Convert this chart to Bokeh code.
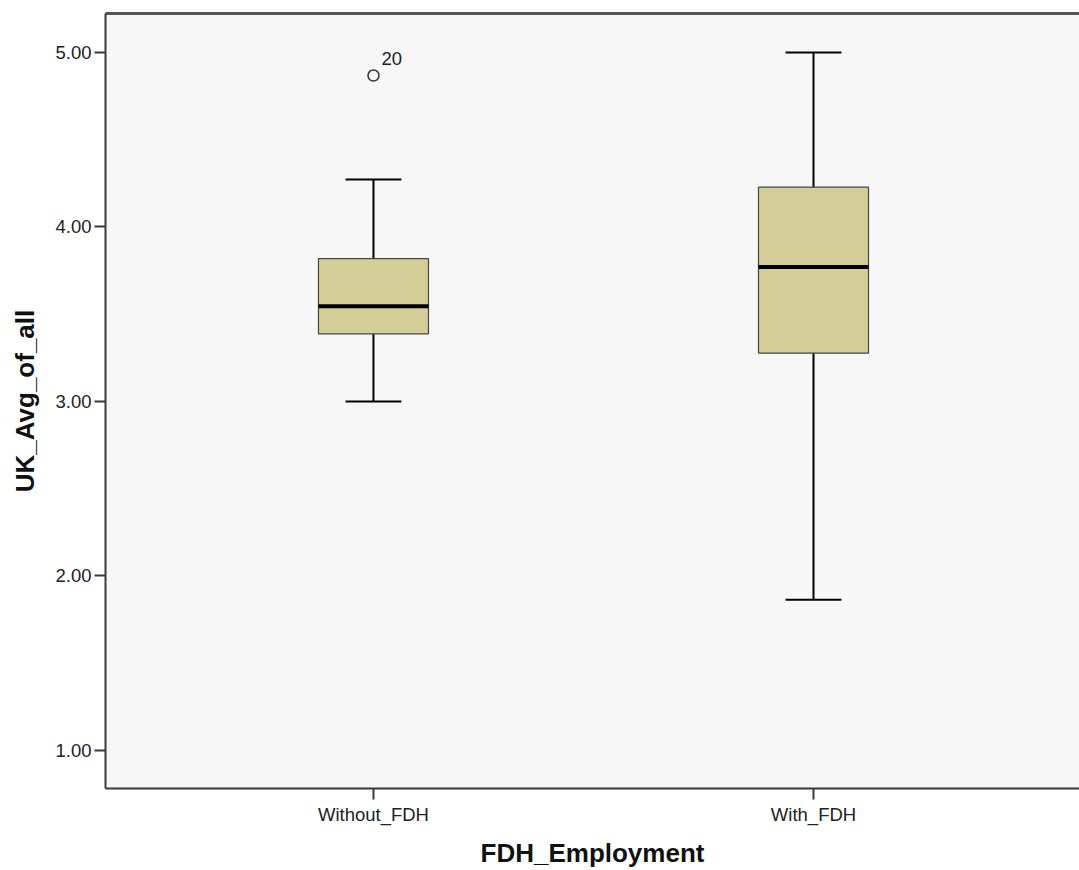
import numpy as np
from bokeh.plotting import figure
from bokeh.models import Range1d, FixedTicker, NumeralTickFormatter, ColumnDataSource, LinearAxis
from bokeh.core.properties import value
from bokeh.embed import file_html
from bokeh.resources import INLINE

# ---- data ----
categories = ["Without_FDH", "With_FDH"]
lower_whisker = [3.00, 1.864]
q1 = [3.388, 3.277]
median = [3.546, 3.770]
q3 = [3.819, 4.228]
upper_whisker = [4.272, 5.00]
outlier_cat = [0]
outlier_val = [4.868]
outlier_label = ["20"]
y_ticks = [1, 2, 3, 4, 5]

FONT = "Liberation Sans"
BOX_W = 0.25
CAP_W = 0.127

xpos = np.arange(len(categories), dtype=float)
src = ColumnDataSource(dict(
    x=xpos, lo=lower_whisker, q1=q1, med=median, q3=q3, hi=upper_whisker,
    bl=xpos - BOX_W / 2, br=xpos + BOX_W / 2,
    cl=xpos - CAP_W / 2, cr=xpos + CAP_W / 2,
))

p = figure(width=1079, height=870, output_backend="svg", toolbar_location=None,
           x_range=Range1d(-0.609, 1.6045), y_range=Range1d(0.782, 5.2235),
           min_border_left=105, min_border_right=0, min_border_top=13, min_border_bottom=82)

p.background_fill_color = "#F7F7F7"
p.border_fill_color = "white"
p.outline_line_color = None
p.xgrid.visible = False
p.ygrid.visible = False

xax = p.below[0]
yax = p.left[0]

# top frame edge (the frame runs off the right side in the reference)
top = LinearAxis(ticker=FixedTicker(ticks=[]),
                 axis_line_color="#555555", axis_line_width=3,
                 major_tick_out=0, major_tick_in=0, minor_tick_out=0, minor_tick_in=0)
p.add_layout(top, "above")

# whiskers
p.segment(x0="x", y0="q3", x1="x", y1="hi", source=src, line_color="black", line_width=2)
p.segment(x0="x", y0="lo", x1="x", y1="q1", source=src, line_color="black", line_width=2)
p.segment(x0="cl", y0="hi", x1="cr", y1="hi", source=src, line_color="black", line_width=2)
p.segment(x0="cl", y0="lo", x1="cr", y1="lo", source=src, line_color="black", line_width=2)
# boxes
p.vbar(x="x", width=BOX_W, bottom="q1", top="q3", source=src,
       fill_color="#D3CE97", line_color="#444444", line_width=1.2)
# medians
p.segment(x0="bl", y0="med", x1="br", y1="med", source=src, line_color="black", line_width=4)

# outliers
osrc = ColumnDataSource(dict(x=[xpos[i] for i in outlier_cat], y=outlier_val, t=outlier_label))
p.scatter(x="x", y="y", source=osrc, size=11, marker="circle",
          fill_color="#F7F7F7", line_color="#333333", line_width=1.5)
p.text(x="x", y="y", text="t", source=osrc, x_offset=8, y_offset=-17,
       text_font=value(FONT), text_font_size="18.5px", text_color="#222222",
       text_baseline="middle", text_align="left")

# axes
xax.ticker = FixedTicker(ticks=list(xpos))
overrides = {}
for i, c in enumerate(categories):
    overrides[i] = c
    overrides[float(i)] = c
xax.major_label_overrides = overrides
yax.ticker = FixedTicker(ticks=y_ticks)
yax.formatter = NumeralTickFormatter(format="0.00")

for ax in (xax, yax):
    ax.axis_line_color = "#3a3a3a"
    ax.axis_line_width = 2
    ax.major_tick_line_color = "#3a3a3a"
    ax.major_tick_line_width = 2
    ax.major_tick_out = 11
    ax.major_tick_in = 0
    ax.minor_tick_out = 0
    ax.minor_tick_in = 0
    ax.major_label_text_font = FONT
    ax.major_label_text_font_size = "18.5px"
    ax.major_label_text_color = "#222222"
    ax.axis_label_text_font = FONT
    ax.axis_label_text_font_style = "bold"
    ax.axis_label_text_font_size = "26px"
    ax.axis_label_text_color = "#111111"

xax.axis_label = "FDH_Employment"
yax.axis_label = "UK_Avg_of_all"
yax.major_label_standoff = 3
yax.axis_label_standoff = 12
xax.major_label_standoff = 4
xax.axis_label_standoff = 10

open("out.html", "w").write(file_html(p, INLINE))
